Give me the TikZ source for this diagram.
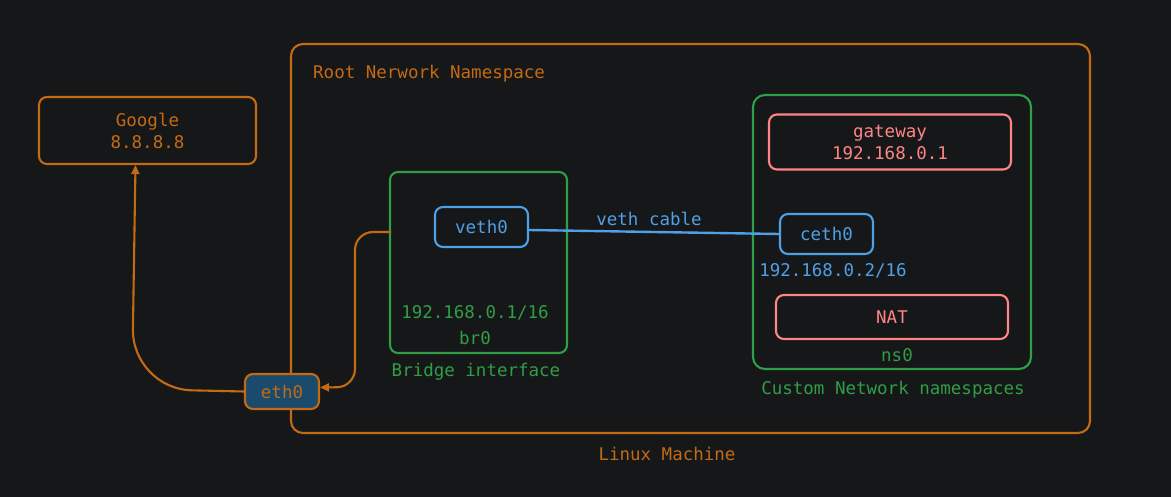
\documentclass[tikz,border=0pt]{standalone}
\usepackage{fontspec}
\setmonofont{DejaVu Sans Mono}
\usetikzlibrary{positioning, arrows.meta}
\definecolor{BgA}{HTML}{161719}
\definecolor{OrangeA}{HTML}{C46A12}
\definecolor{GreenA}{HTML}{2F9E44}
\definecolor{BlueA}{HTML}{4FA0E6}
\definecolor{RedA}{HTML}{FF8585}
\definecolor{EthB}{HTML}{1A4A6C}
\tikzset{
  box/.style={draw, rounded corners=8pt, line width=2.1pt, inner sep=0pt},
  big/.style={draw, rounded corners=12pt, line width=2.1pt, inner sep=0pt},
  txt/.style={font=\ttfamily\fontsize{17.5}{22}\selectfont, align=center, inner sep=0pt},
  org/.style={draw=OrangeA, text=OrangeA},
  grn/.style={draw=GreenA, text=GreenA},
  blu/.style={draw=BlueA, text=BlueA},
  red/.style={draw=RedA, text=RedA},
  arr/.style={-{Triangle[length=9pt,width=8pt]}, line width=2.1pt, draw=OrangeA, rounded corners=18pt}
}
\begin{document}
\begin{tikzpicture}[x=1pt,y=-1pt]
  \fill[BgA] (0,0) rectangle (1171,497);
  \useasboundingbox (0,0) rectangle (1171,497);

  % linux machine / root namespace
  \node[big,org,minimum width=799pt,minimum height=389pt] (linux) at (690.5,238.5) {};
  \node[txt,text=OrangeA,anchor=west] (rootlbl) at (313,74) {Root Nerwork Namespace};
  \node[txt,text=OrangeA] (linuxlbl) at (667,454) {Linux Machine};

  % google
  \node[box,org,txt,minimum width=217pt,minimum height=67pt] (google) at (147.5,130.5) {Google\\8.8.8.8};

  % bridge
  \node[box,grn,minimum width=177pt,minimum height=181pt] (bridge) at (478.5,262.5) {};
  \node[txt,text=GreenA] (brip) at (475,313) {192.168.0.1/16};
  \node[txt,text=GreenA] (brname) at (475,338) {br0};
  \node[txt,text=GreenA] (brlbl) at (476,372) {Bridge interface};
  \node[box,blu,txt,minimum width=93pt,minimum height=40pt] (veth0) at (481.5,227) {veth0};

  % custom namespace
  \node[big,grn,minimum width=278pt,minimum height=274pt] (ns) at (892,232) {};
  \node[box,red,txt,minimum width=242pt,minimum height=55pt] (gw) at (890,142) {gateway\\192.168.0.1};
  \node[box,blu,txt,minimum width=93pt,minimum height=40pt] (ceth0) at (826.5,234) {ceth0};
  \node[txt,text=BlueA] (cethip) at (833,271) {192.168.0.2/16};
  \node[box,red,txt,minimum width=232pt,minimum height=44pt] (nat) at (892,317) {NAT};
  \node[txt,text=GreenA] (nsname) at (897,355) {ns0};
  \node[txt,text=GreenA] (nslbl) at (893,390) {Custom Network namespaces};

  % eth0
  \node[box,org,txt,fill=EthB,minimum width=74pt,minimum height=35pt] (eth0) at (282,391.5) {eth0};

  % connectors
  \draw[draw=BlueA,line width=2.4pt] ([yshift=-3pt]veth0.east) -- node[txt,text=BlueA,above=5pt,pos=0.48]{veth cable} (ceth0.west);
  \coordinate (brout) at (391,232);
  \draw[arr] (brout) -- (355,232) -- (355,387) -- ([yshift=4pt]eth0.east);
  \draw[arr,rounded corners=60pt] (eth0.west) -- (132,389) -- ([xshift=-12pt]google.south);
\end{tikzpicture}
\end{document}
